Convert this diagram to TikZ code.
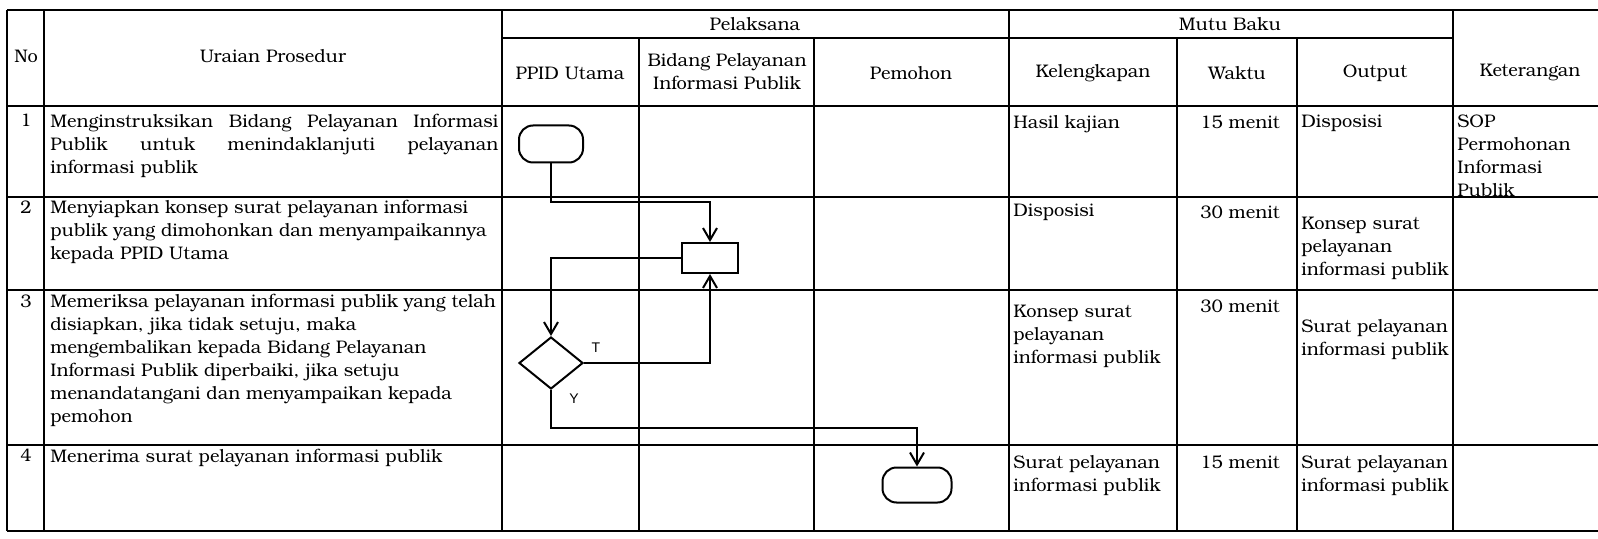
\documentclass[tikz,border=0pt]{standalone}
\usepackage{fontspec}
\setmainfont{TeX Gyre Bonum}
\newfontfamily\yesnofont{Liberation Sans}
\usetikzlibrary{arrows.meta,shapes.geometric}
\newcommand{\sopfont}{\fontsize{9.1}{11.5}\selectfont}

\begin{document}
\begin{tikzpicture}[
    x=0.5pt, y=-0.5pt,
    rule/.style={line width=0.9pt},
    symbol/.style={draw, line width=1pt, inner sep=0pt},
    terminal/.style={symbol, rounded corners=7pt, minimum width=32pt, minimum height=18.5pt},
    process/.style={symbol, minimum width=28pt, minimum height=15pt},
    decision/.style={symbol, diamond, minimum width=32pt, minimum height=26pt},
    arrow/.style={-{Straight Barb[length=6pt,width=7pt]}, line width=1pt},
    head/.style={font=\sopfont, align=center, inner sep=0pt},
    cell/.style={font=\sopfont, anchor=north west, align=left, inner sep=0pt},
    num/.style={font=\sopfont, anchor=north, align=center, inner sep=0pt},
    yesno/.style={font=\yesnofont\fontsize{7}{8}\selectfont, inner sep=0pt}
]
    \useasboundingbox (0,0) rectangle (1598,539);

    \draw[rule] (7,10) -- (1598,10);
    \draw[rule] (502,38) -- (1453,38);
    \foreach \y in {106,197,290,445,531}
        \draw[rule] (7,\y) -- (1598,\y);
    \foreach \x in {7,44,502,1009,1453}
        \draw[rule] (\x,10) -- (\x,531);
    \foreach \x in {639,814,1177,1297}
        \draw[rule] (\x,38) -- (\x,531);

    \node[head] (hno) at (26,56) {No};
    \node[head] (hura) at (273,56) {Uraian Prosedur};
    \node[head] (hpel) at (755,24) {Pelaksana};
    \node[head] (hppid) at (570,73) {PPID Utama};
    \node[head] (hbid) at (727,72) {Bidang Pelayanan\\Informasi Publik};
    \node[head] (hpem) at (911,73) {Pemohon};
    \node[head] (hmutu) at (1230,24) {Mutu Baku};
    \node[head] (hkel) at (1093,73) {Kelengkapan};
    \node[head] (hwak) at (1237,73) {Waktu};
    \node[head] (hout) at (1375,73) {Output};
    \node[head] (hket) at (1530,72) {Keterangan};

    \node[num] (n1) at (26,114) {1};
    \node[num] (n2) at (26,200) {2};
    \node[num] (n3) at (26,294) {3};
    \node[num] (n4) at (26,449) {4};

    \node[cell, text width=224pt] (u1) at (50,114) {Menginstruksikan\hfill Bidang\hfill Pelayanan\hfill Informasi\\Publik\hfill untuk\hfill menindaklanjuti\hfill pelayanan\\informasi publik};
    \node[cell] (u2) at (50,200) {Menyiapkan konsep surat pelayanan informasi\\publik yang dimohonkan dan menyampaikannya\\kepada PPID Utama};
    \node[cell] (u3) at (50,294) {Memeriksa pelayanan informasi publik yang telah\\disiapkan, jika tidak setuju, maka\\mengembalikan kepada Bidang Pelayanan\\Informasi Publik diperbaiki, jika setuju\\menandatangani dan menyampaikan kepada\\pemohon};
    \node[cell] (u4) at (50,449) {Menerima surat pelayanan informasi publik};

    \node[cell] (k1) at (1013,115) {Hasil kajian};
    \node[cell] (k2) at (1013,204) {Disposisi};
    \node[cell] (k3) at (1013,305) {Konsep surat\\pelayanan\\informasi publik};
    \node[cell] (k4) at (1013,455) {Surat pelayanan\\informasi publik};

    \node[num] (w1) at (1240,115) {15 menit};
    \node[num] (w2) at (1240,205) {30 menit};
    \node[num] (w3) at (1240,299) {30 menit};
    \node[num] (w4) at (1240,455) {15 menit};

    \node[cell] (o1) at (1301,115) {Disposisi};
    \node[cell] (o2) at (1301,217) {Konsep surat\\pelayanan\\informasi publik};
    \node[cell] (o3) at (1301,319) {Surat pelayanan\\informasi publik};
    \node[cell] (o4) at (1301,455) {Surat pelayanan\\informasi publik};

    \node[cell] (ket1) at (1457,114) {SOP\\Permohonan\\Informasi\\Publik};

    \node[terminal] (t1) at (551,144) {};
    \node[process] (p1) at (710,258) {};
    \node[decision] (d1) at (551,363) {};
    \node[terminal, minimum width=34.5pt, minimum height=17.5pt] (t2) at (917,485) {};
    \coordinate (turn1) at (710,202);
    \coordinate (turn2) at (917,428);

    \draw[arrow] (t1) |- (turn1) -- (p1);
    \draw[arrow] (p1) -| (d1);
    \draw[arrow] (d1) -| (p1);
    \draw[arrow] (d1) |- (turn2) -- (t2);
    \node[yesno] (lt) at (596,348) {T};
    \node[yesno] (ly) at (574,399) {Y};
\end{tikzpicture}
\end{document}
